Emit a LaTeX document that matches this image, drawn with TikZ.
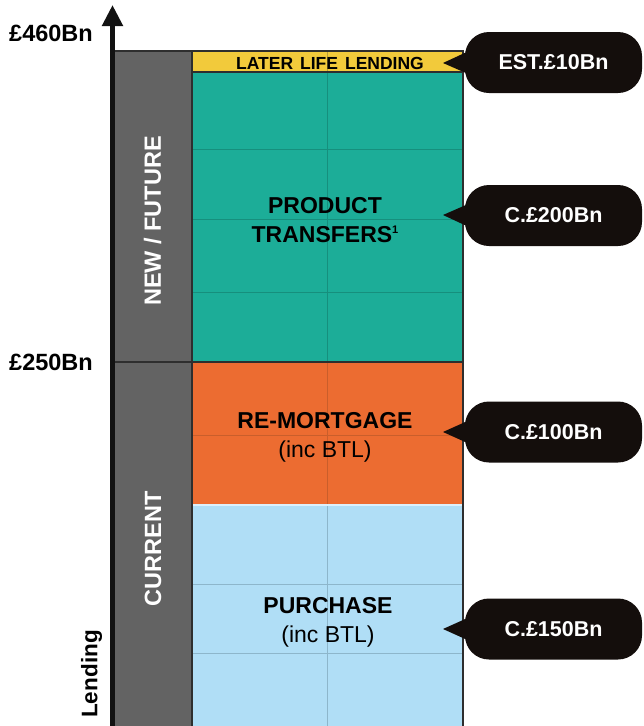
\documentclass[tikz,border=0pt]{standalone}
\usepackage{fontspec}
\setmainfont{Liberation Sans}
\usepackage{tikz}
\usetikzlibrary{arrows.meta,positioning,calc}
\definecolor{slab}{HTML}{636363}
\definecolor{inkyellow}{HTML}{F2CA3B}
\definecolor{inkteal}{HTML}{1CAD98}
\definecolor{inkorange}{HTML}{EC6C31}
\definecolor{inkblue}{HTML}{B0DEF6}
\definecolor{gridyellow}{HTML}{B89E3C}
\definecolor{gridteal}{HTML}{168F7D}
\definecolor{gridorange}{HTML}{C95E2B}
\definecolor{gridblue}{HTML}{8DB6CB}
\definecolor{bubble}{HTML}{140E0C}
\definecolor{edge}{HTML}{2E2E2E}
\newcommand{\band}[4]{\fill[#1] (192,#2) rectangle (463,#3); \draw[#4,line width=0.8pt] (327,#2) -- (327,#3);}
\newcommand{\gridline}[2]{\draw[#1,line width=0.8pt] (192,#2) -- (463,#2);}
\newcommand{\fsz}[2]{\fontsize{#1}{#2}\selectfont}
\newcommand{\note}[1]{\raisebox{8.5pt}{\fsz{11}{11}#1}}

\begin{document}
\begin{tikzpicture}[x=1pt,y=-1pt,font=\bfseries,
  every node/.style={inner sep=0pt},
  pill/.style={fill=bubble,text=white,rounded corners=24pt,minimum width=177pt,minimum height=61pt,font=\bfseries\fsz{21.5}{26}},
  axislabel/.style={anchor=east,font=\bfseries\fsz{23.5}{28}},
  sidelabel/.style={rotate=90,text=white,font=\bfseries\fsz{23.5}{28}},
  bandlabel/.style={align=center,font=\bfseries\fsz{23}{29}}]
  \useasboundingbox (0,0) rectangle (644,726);

  \fill[slab] (115,51) rectangle (192,726);
  \band{inkyellow}{51}{72}{gridyellow}
  \band{inkteal}{72}{362}{gridteal}
  \band{inkorange}{362}{504}{gridorange}
  \band{inkblue}{505.5}{726}{gridblue}
  \fill[inkblue!45] (192,504) rectangle (463,505.5);
  \foreach \y in {149,219,292} { \gridline{gridteal}{\y} }
  \gridline{gridorange}{435}
  \foreach \y in {584,653} { \gridline{gridblue}{\y} }

  \draw[edge,line width=1.3pt] (115,51) -- (463,51) -- (463,726);
  \draw[edge,line width=1.3pt] (192,51) -- (192,726);
  \draw[edge,line width=1.3pt] (192,72) -- (463,72);
  \draw[edge,line width=1.3pt] (115,362) -- (463,362);

  \coordinate (axisfoot) at (112.5,726);
  \coordinate (axistop) at (112.5,5);
  \draw[black!93,line width=5pt,-{Triangle[width=20pt,length=21pt]}] (axisfoot) -- (axistop);

  \node[axislabel] (toplevel) at (93,33.5) {£460Bn};
  \node[axislabel] (midlevel) at (93,362.5) {£250Bn};
  \node[rotate=90,font=\bfseries\fsz{22.5}{27}] (lending) at (91.5,674) {Lending};
  \node[sidelabel] (future) at (152.5,221) {NEW / FUTURE};
  \node[sidelabel] (current) at (153,549) {CURRENT};

  \node[font=\bfseries\fsz{17.5}{20}] (laterlife) at (330,63) {LATER\hspace{7pt}LIFE\hspace{7pt}LENDING};
  \node[bandlabel] (transfers) at (325,220) {PRODUCT\\TRANSFERS\note{1}};
  \node[bandlabel] (remortgage) at (325,437) {RE-MORTGAGE\\\textmd{(inc BTL)}};
  \node[bandlabel] (purchase) at (328,622) {PURCHASE\\\textmd{(inc BTL)}};

  \foreach \nm/\yc/\ty/\txt in {ten/62.5/63/{EST.£10Bn},
                                 twohundred/215.5/215/{C.£200Bn},
                                 hundred/432/432/{C.£100Bn},
                                 onefifty/629/629/{C.£150Bn}}
  {
    \node[pill] (pill\nm) at (553.5,\yc) {\txt};
    \coordinate (tip\nm) at (443,\ty);
    \fill[bubble] (tip\nm) -- ([xshift=16pt,yshift=17pt]pill\nm.west) -- ([xshift=16pt,yshift=-17pt]pill\nm.west) -- cycle;
  }
\end{tikzpicture}
\end{document}
